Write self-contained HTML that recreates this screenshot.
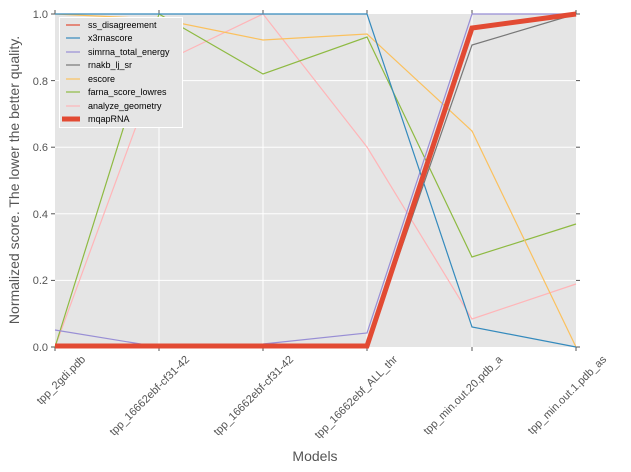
<!DOCTYPE html>
<html><head><style>body{margin:0;background:#fff}svg{display:block}text{font-family:"Liberation Sans",sans-serif}</style></head><body>
<svg width="631" height="472" viewBox="0 0 631 472">
<rect x="55" y="14" width="521" height="333" fill="#e5e5e5"/>
<g stroke="#fff" stroke-width="1">
<line x1="159" y1="14" x2="159" y2="347"/><line x1="263" y1="14" x2="263" y2="347"/><line x1="367" y1="14" x2="367" y2="347"/><line x1="472" y1="14" x2="472" y2="347"/>
<line x1="55" y1="80.6" x2="576" y2="80.6"/><line x1="55" y1="147.2" x2="576" y2="147.2"/><line x1="55" y1="213.8" x2="576" y2="213.8"/><line x1="55" y1="280.4" x2="576" y2="280.4"/>
</g>
<g stroke="#555" stroke-width="1">
<line x1="51" y1="14" x2="55" y2="14"/><line x1="51" y1="80.6" x2="55" y2="80.6"/><line x1="51" y1="147.2" x2="55" y2="147.2"/><line x1="51" y1="213.8" x2="55" y2="213.8"/><line x1="51" y1="280.4" x2="55" y2="280.4"/><line x1="51" y1="347" x2="55" y2="347"/>
<line x1="576" y1="14" x2="580" y2="14"/><line x1="576" y1="80.6" x2="580" y2="80.6"/><line x1="576" y1="147.2" x2="580" y2="147.2"/><line x1="576" y1="213.8" x2="580" y2="213.8"/><line x1="576" y1="280.4" x2="580" y2="280.4"/><line x1="576" y1="347" x2="580" y2="347"/>
<line x1="55" y1="347" x2="55" y2="351"/><line x1="159" y1="347" x2="159" y2="351"/><line x1="263" y1="347" x2="263" y2="351"/><line x1="367" y1="347" x2="367" y2="351"/><line x1="472" y1="347" x2="472" y2="351"/><line x1="576" y1="347" x2="576" y2="351"/>
<line x1="55" y1="10" x2="55" y2="14"/><line x1="159" y1="10" x2="159" y2="14"/><line x1="263" y1="10" x2="263" y2="14"/><line x1="367" y1="10" x2="367" y2="14"/><line x1="472" y1="10" x2="472" y2="14"/><line x1="576" y1="10" x2="576" y2="14"/>
</g>
<g fill="none" stroke-width="1.2">
<polyline stroke="#FFB5B8" points="55,347 159,64 263,14 367,147 472,319 576,284"/>
<polyline stroke="#8EBA42" points="55,347 159,14 263,74 367,37 472,257 576,224"/>
<polyline stroke="#FBC15E" points="55,14 159,19 263,40 367,34 472,131 576,347"/>
<polyline stroke="#777" points="55,347 159,347 263,347 367,347 472,45 576,14"/>
<polyline stroke="#988ED5" points="55,330 159,347 263,344 367,333 472,14 576,14"/>
<polyline stroke="#348ABD" points="55,14 159,14 263,14 367,14 472,327 576,347"/>
<polyline stroke="#E24A33" stroke-width="5" points="55,346 159,346 263,346 367,346 472,28 576,14"/>
</g>
<g font-size="11" fill="#555" text-anchor="end">
<text x="48" y="18">1.0</text><text x="48" y="85">0.8</text><text x="48" y="151">0.6</text><text x="48" y="218">0.4</text><text x="48" y="284">0.2</text><text x="48" y="351">0.0</text>
</g>
<g font-size="11" fill="#555" text-anchor="end">
<text transform="translate(86,360) rotate(-45)">tpp_2gdi.pdb</text>
<text transform="translate(190,360) rotate(-45)">tpp_16662ebf-cf31-42</text>
<text transform="translate(294,360) rotate(-45)">tpp_16662ebf-cf31-42</text>
<text transform="translate(398,360) rotate(-45)">tpp_16662ebf_ALL_thr</text>
<text transform="translate(503,360) rotate(-45)">tpp_min.out.20.pdb_a</text>
<text transform="translate(607,360) rotate(-45)">tpp_min.out.1.pdb_as</text>
</g>
<text x="315" y="461" font-size="14" fill="#555" text-anchor="middle">Models</text>
<text transform="translate(19,180) rotate(-90)" font-size="14" fill="#555" text-anchor="middle">Normalized score. The lower the better quality.</text>
<rect x="59.5" y="17.5" width="123" height="110" fill="#e5e5e5" stroke="#fff"/>
<g stroke-width="1.2">
<line x1="66" y1="25" x2="80" y2="25" stroke="#E24A33"/>
<line x1="66" y1="38" x2="80" y2="38" stroke="#348ABD"/>
<line x1="66" y1="52" x2="80" y2="52" stroke="#988ED5"/>
<line x1="66" y1="65" x2="80" y2="65" stroke="#777"/>
<line x1="66" y1="79" x2="80" y2="79" stroke="#FBC15E"/>
<line x1="66" y1="92" x2="80" y2="92" stroke="#8EBA42"/>
<line x1="66" y1="106" x2="80" y2="106" stroke="#FFB5B8"/>
<line x1="62" y1="119" x2="80" y2="119" stroke="#E24A33" stroke-width="5"/>
</g>
<g font-size="9" fill="#000">
<text x="88" y="28">ss_disagreement</text><text x="88" y="41">x3rnascore</text><text x="88" y="55">simrna_total_energy</text><text x="88" y="68">rnakb_lj_sr</text><text x="88" y="82">escore</text><text x="88" y="95">farna_score_lowres</text><text x="88" y="109">analyze_geometry</text><text x="88" y="122">mqapRNA</text>
</g>
</svg>
</body></html>
